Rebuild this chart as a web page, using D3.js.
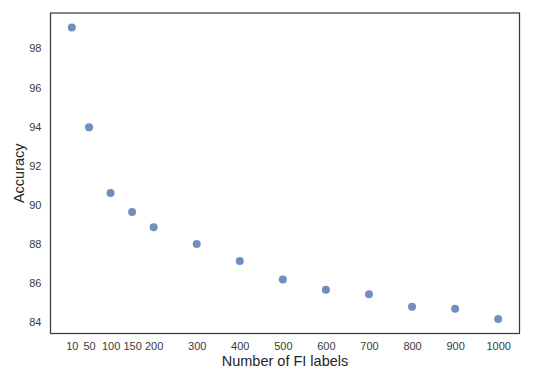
<!DOCTYPE html>
<html>
<head>
<meta charset="utf-8">
<script src="https://cdn.jsdelivr.net/npm/d3@7"></script>
<style>
  body { margin: 0; background: #fff; }
  svg text { font-family: Arial, "Liberation Sans", sans-serif; fill: #262626; }
</style>
</head>
<body>
<svg id="chart"></svg>
<script>
const LABEL_COUNTS = [10, 50, 100, 150, 200, 300, 400, 500, 600, 700, 800, 900, 1000];
const ACCURACY = [99.07, 93.96, 90.59, 89.62, 88.84, 87.98, 87.11, 86.16, 85.63, 85.40, 84.76, 84.66, 84.14];
const Y_TICKS = [84, 86, 88, 90, 92, 94, 96, 98];

const SVG_WIDTH = 541;
const SVG_HEIGHT = 374;
const MARGIN = { top: 13, right: 21.5, bottom: 40.5, left: 50.5 };
const WIDTH = SVG_WIDTH - MARGIN.left - MARGIN.right;
const HEIGHT = SVG_HEIGHT - MARGIN.top - MARGIN.bottom;

const data = LABEL_COUNTS.map((n, i) => ({ n: n, acc: ACCURACY[i] }));

// matplotlib style 5% padding on both axes
function padded(ext) {
	const pad = (ext[1] - ext[0]) * 0.05;
	return [ext[0] - pad, ext[1] + pad];
}

const x = d3.scaleLinear().domain(padded(d3.extent(LABEL_COUNTS))).range([0, WIDTH]);
const y = d3.scaleLinear().domain(padded(d3.extent(ACCURACY))).range([HEIGHT, 0]);

const svg = d3.select('#chart')
	.attr('width', SVG_WIDTH)
	.attr('height', SVG_HEIGHT)
.append('g')
	.attr('transform', 'translate(' + MARGIN.left + ', ' + MARGIN.top + ')');

// X-Axis
const xAxis = svg.append('g')
	.attr('transform', 'translate(0, ' + HEIGHT + ')')
	.call(d3.axisBottom(x).tickValues(LABEL_COUNTS).tickSize(0).tickPadding(9).tickFormat(d3.format('d')));
xAxis.select('.domain').remove();
xAxis.selectAll('text').style('font-size', '11px').style('fill', '#3a3a3a');

// Y-Axis
const yAxis = svg.append('g')
	.call(d3.axisLeft(y).tickValues(Y_TICKS).tickSize(0).tickPadding(9).tickFormat(d3.format('d')));
yAxis.select('.domain').remove();
yAxis.selectAll('text').style('font-size', '11px').style('fill', '#3a3a3a');

// frame
svg.append('rect')
	.attr('x', 0)
	.attr('y', 0)
	.attr('width', WIDTH)
	.attr('height', HEIGHT)
	.attr('fill', 'none')
	.attr('stroke', '#3a3a3a')
	.attr('stroke-width', 1.25);

svg.selectAll('.dot')
	.data(data)
	.enter()
	.append('circle')
		.attr('class', 'dot')
		.attr('r', 4)
		.attr('cx', d => x(d.n))
		.attr('cy', d => y(d.acc))
		.attr('fill', '#4c72b0')
		.attr('fill-opacity', 0.8);

svg.append('text')
	.attr('text-anchor', 'middle')
	.attr('x', WIDTH / 2)
	.attr('y', HEIGHT + 32)
	.style('font-size', '14.5px')
	.text('Number of FI labels');

svg.append('text')
	.attr('transform', 'rotate(-90)')
	.attr('x', -HEIGHT / 2)
	.attr('y', -27)
	.style('text-anchor', 'middle')
	.style('font-size', '14.5px')
	.text('Accuracy');
</script>
</body>
</html>
